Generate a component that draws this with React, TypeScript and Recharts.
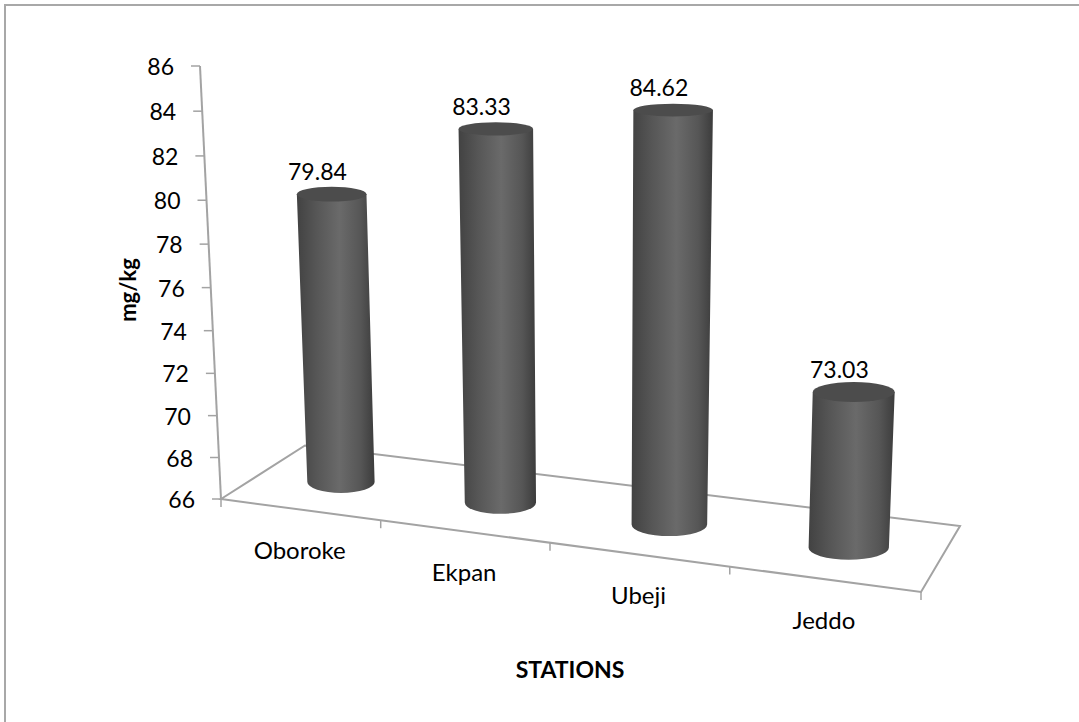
import { BarChart, Bar, XAxis, YAxis, LabelList } from "recharts";

const stations = ["Oboroke", "Ekpan", "Ubeji", "Jeddo"];
const concentrations = [79.84, 83.33, 84.62, 73.03];
const yTicks = [66, 68, 70, 72, 74, 76, 78, 80, 82, 84, 86];

const data = stations.map((station, i) => ({ station, value: concentrations[i] }));

const WIDTH = 1079;
const HEIGHT = 722;
const PLOT = { left: 221, top: 66, width: 700, height: 433 };

const FONT = "Lato, 'Open Sans', sans-serif";
const AXIS_GREY = "#a3a3a3";

type Pt = { x: number; y: number };

// Perspective map from the unit square to a quad (bl, br, tl, tr)
function makeProjection(bl: Pt, br: Pt, tl: Pt, tr: Pt) {
    const dx1 = br.x - tr.x;
    const dx2 = tl.x - tr.x;
    const sx = bl.x - br.x - tl.x + tr.x;
    const dy1 = br.y - tr.y;
    const dy2 = tl.y - tr.y;
    const sy = bl.y - br.y - tl.y + tr.y;
    const det = dx1 * dy2 - dx2 * dy1;
    const g = (sx * dy2 - dx2 * sy) / det;
    const h = (dx1 * sy - sx * dy1) / det;
    return (u: number, v: number): Pt => {
        const w = g * u + h * v + 1;
        return {
            x: ((br.x - bl.x + g * br.x) * u + (tl.x - bl.x + h * tl.x) * v + bl.x) / w,
            y: ((br.y - bl.y + g * br.y) * u + (tl.y - bl.y + h * tl.y) * v + bl.y) / w,
        };
    };
}

// Front plane carries the value axis and the category ticks
const front = makeProjection(
    { x: 221, y: 499 },
    { x: 921, y: 592 },
    { x: 200, y: 66 },
    { x: 935.6, y: 105.8 }
);

// Plane through the middle of the floor, where the cylinders stand
const middle = makeProjection(
    { x: 264.5, y: 472 },
    { x: 942.5, y: 560 },
    { x: 247, y: 55 },
    { x: 963, y: 93 }
);

const FLOOR_BACK_LEFT = { x: 305, y: 445.5 };
const FLOOR_BACK_RIGHT = { x: 960, y: 526 };

const toU = (x: number) => (x - PLOT.left) / PLOT.width;
const toV = (y: number) => (PLOT.top + PLOT.height - y) / PLOT.height;

// The ellipse flattens towards the top of the view
const ellipseRy = (y: number) => 5 + y * 0.0125;

function Cylinder(props: any) {
    const { x, y, width } = props;
    const v = toV(y);
    const uMid = toU(x + width / 2);
    const topY = middle(uMid, v).y;
    const baseY = middle(uMid, 0).y;
    const tl = middle(toU(x), v).x;
    const tr = middle(toU(x + width), v).x;
    const bl = middle(toU(x), 0).x;
    const br = middle(toU(x + width), 0).x;
    const side = `M${tl},${topY} L${bl},${baseY} A${(br - bl) / 2},${ellipseRy(baseY)} 0 0 0 ${br},${baseY} L${tr},${topY} Z`;
    return (
        <g>
            <path d={side} fill="url(#cylinderSide)" />
            <ellipse cx={(tl + tr) / 2} cy={topY} rx={(tr - tl) / 2} ry={ellipseRy(topY)} fill="#4c4c4c" />
        </g>
    );
}

function ValueLabel(props: any) {
    const { x, y, width, value } = props;
    const p = middle(toU(x + width / 2), toV(y));
    return (
        <text x={p.x - 14} y={p.y - 23} textAnchor="middle" dominantBaseline="central" fontFamily={FONT} fontSize={23} fill="#000">
            {value}
        </text>
    );
}

function ValueTick(props: any) {
    const { y, payload } = props;
    const p = front(0, toV(y));
    return (
        <g>
            <line x1={p.x - 9} y1={p.y} x2={p.x} y2={p.y} stroke={AXIS_GREY} strokeWidth={1.5} />
            <text x={p.x - 26} y={p.y} textAnchor="end" dominantBaseline="central" fontFamily={FONT} fontSize={23} fill="#000">
                {payload.value}
            </text>
        </g>
    );
}

function StationTick(props: any) {
    const { x, payload } = props;
    const p = front(toU(x), 0);
    return (
        <text x={p.x} y={p.y + 40} textAnchor="middle" dominantBaseline="central" fontFamily={FONT} fontSize={24} fill="#000">
            {payload.value}
        </text>
    );
}

function Floor() {
    const fl = front(0, 0);
    const fr = front(1, 0);
    const top = front(0, 1);
    return (
        <g fill="none" stroke={AXIS_GREY} strokeWidth={2}>
            <path d={`M${top.x},${top.y} L${fl.x},${fl.y}`} />
            <path
                d={`M${fl.x},${fl.y} L${fr.x},${fr.y} L${FLOOR_BACK_RIGHT.x},${FLOOR_BACK_RIGHT.y} L${FLOOR_BACK_LEFT.x},${FLOOR_BACK_LEFT.y} Z`}
            />
            {stations.concat("").map((_, i) => {
                const p = front(i / stations.length, 0);
                return <line key={i} x1={p.x} y1={p.y} x2={p.x} y2={p.y + 8} strokeWidth={1.5} />;
            })}
        </g>
    );
}

export default function App() {
    return (
        <div style={{ position: "absolute", left: 0, top: 0, width: WIDTH, height: HEIGHT, background: "#fff", overflow: "hidden" }}>
            <BarChart
                width={WIDTH}
                height={HEIGHT}
                data={data}
                barCategoryGap="28.2%"
                margin={{ top: PLOT.top, right: WIDTH - PLOT.left - PLOT.width, bottom: 0, left: 0 }}
            >
                <defs>
                    <linearGradient id="cylinderSide" x1="0" y1="0" x2="1" y2="0">
                        <stop offset="0%" stopColor="#424242" />
                        <stop offset="25%" stopColor="#565656" />
                        <stop offset="55%" stopColor="#6a6a6a" />
                        <stop offset="82%" stopColor="#565656" />
                        <stop offset="100%" stopColor="#3c3c3c" />
                    </linearGradient>
                </defs>
                <rect x={5} y={5} width={WIDTH} height={HEIGHT} fill="none" stroke="#a8a8a8" strokeWidth={2} />
                <Floor />
                <XAxis
                    dataKey="station"
                    height={HEIGHT - PLOT.top - PLOT.height}
                    axisLine={false}
                    tickLine={false}
                    tick={<StationTick />}
                    interval={0}
                />
                <YAxis
                    domain={[66, 86]}
                    ticks={yTicks}
                    width={PLOT.left}
                    axisLine={false}
                    tickLine={false}
                    tick={<ValueTick />}
                    interval={0}
                />
                <Bar dataKey="value" shape={<Cylinder />} isAnimationActive={false}>
                    <LabelList dataKey="value" content={<ValueLabel />} />
                </Bar>
                <text x={127} y={290} transform="rotate(-90 127 290)" textAnchor="middle" dominantBaseline="central" fontFamily={FONT} fontSize={22} fontWeight={700} fill="#000">
                    mg/kg
                </text>
                <text x={570} y={669} textAnchor="middle" dominantBaseline="central" fontFamily={FONT} fontSize={23} fontWeight={700} fill="#000">
                    STATIONS
                </text>
            </BarChart>
        </div>
    );
}
